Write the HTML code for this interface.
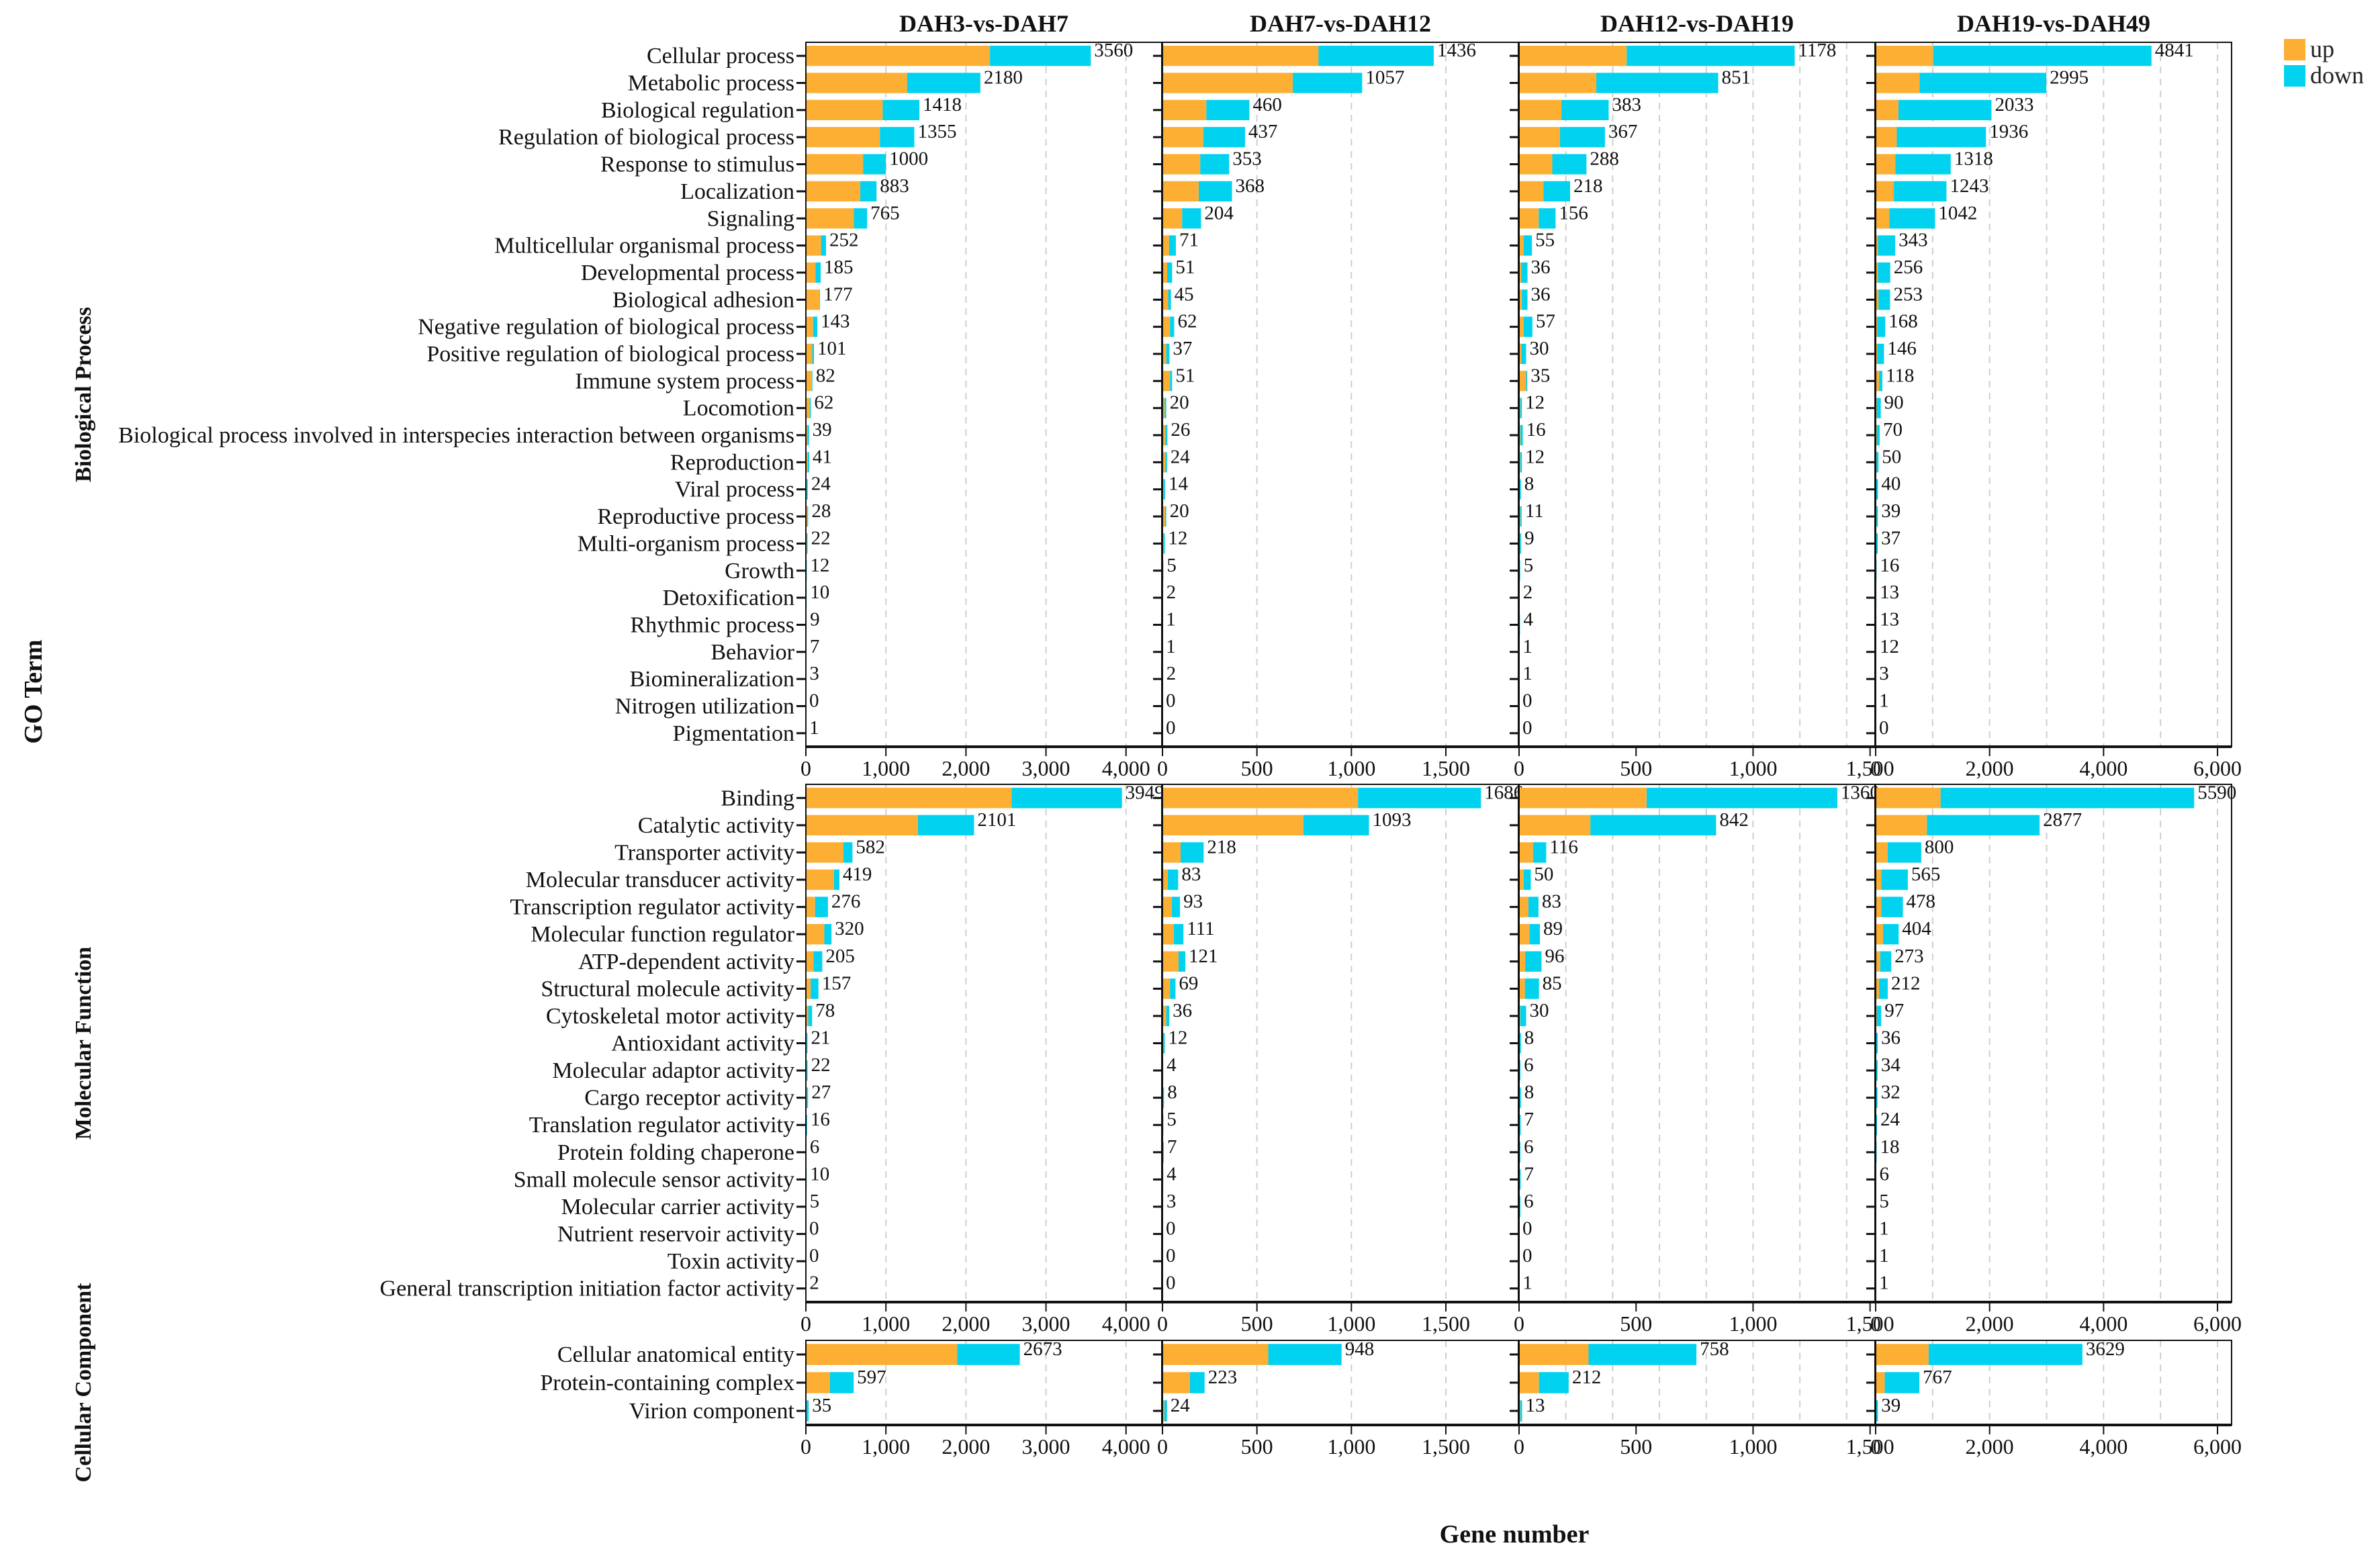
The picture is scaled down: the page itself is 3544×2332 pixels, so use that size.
<!DOCTYPE html>
<html><head><meta charset="utf-8">
<style>
html,body{margin:0;padding:0;background:#fff;}
svg{display:block;font-family:"Liberation Serif",serif;}
</style></head>
<body>
<svg id="chart" width="3544" height="2332" viewBox="0 0 3544 2332" xmlns="http://www.w3.org/2000/svg"></svg>
<script>
const comparisons = ["DAH3-vs-DAH7","DAH7-vs-DAH12","DAH12-vs-DAH19","DAH19-vs-DAH49"];
const bpTerms = ["Cellular process","Metabolic process","Biological regulation","Regulation of biological process","Response to stimulus","Localization","Signaling","Multicellular organismal process","Developmental process","Biological adhesion","Negative regulation of biological process","Positive regulation of biological process","Immune system process","Locomotion","Biological process involved in interspecies interaction between organisms","Reproduction","Viral process","Reproductive process","Multi-organism process","Growth","Detoxification","Rhythmic process","Behavior","Biomineralization","Nitrogen utilization","Pigmentation"];
const mfTerms = ["Binding","Catalytic activity","Transporter activity","Molecular transducer activity","Transcription regulator activity","Molecular function regulator","ATP-dependent activity","Structural molecule activity","Cytoskeletal motor activity","Antioxidant activity","Molecular adaptor activity","Cargo receptor activity","Translation regulator activity","Protein folding chaperone","Small molecule sensor activity","Molecular carrier activity","Nutrient reservoir activity","Toxin activity","General transcription initiation factor activity"];
const ccTerms = ["Cellular anatomical entity","Protein-containing complex","Virion component"];

const bpTotal = [
 [3560,2180,1418,1355,1000,883,765,252,185,177,143,101,82,62,39,41,24,28,22,12,10,9,7,3,0,1],
 [1436,1057,460,437,353,368,204,71,51,45,62,37,51,20,26,24,14,20,12,5,2,1,1,2,0,0],
 [1178,851,383,367,288,218,156,55,36,36,57,30,35,12,16,12,8,11,9,5,2,4,1,1,0,0],
 [4841,2995,2033,1936,1318,1243,1042,343,256,253,168,146,118,90,70,50,40,39,37,16,13,13,12,3,1,0]
];
const bpUp = [
 [2300,1265,960,925,715,680,600,190,120,170,90,80,75,50,20,25,10,18,12,6,5,5,4,2,0,1],
 [826,690,232,216,200,192,104,35,25,30,40,20,40,12,15,16,8,14,6,3,1,1,1,1,0,0],
 [460,330,181,175,142,104,84,20,10,12,20,10,30,5,6,5,3,5,4,2,1,1,0,0,0,0],
 [1010,770,400,370,345,320,240,40,40,50,30,30,60,20,20,15,10,15,10,5,4,4,4,1,0,0]
];
const mfTotal = [
 [3949,2101,582,419,276,320,205,157,78,21,22,27,16,6,10,5,0,0,2],
 [1686,1093,218,83,93,111,121,69,36,12,4,8,5,7,4,3,0,0,0],
 [1360,842,116,50,83,89,96,85,30,8,6,8,7,6,7,6,0,0,1],
 [5590,2877,800,565,478,404,273,212,97,36,34,32,24,18,6,5,1,1,1]
];
const mfUp = [
 [2570,1400,470,350,115,230,95,60,30,10,10,12,8,3,5,2,0,0,1],
 [1035,746,96,28,50,60,85,40,20,5,2,4,2,4,2,1,0,0,0],
 [545,305,60,20,40,45,26,25,5,3,2,3,3,2,3,2,0,0,0],
 [1140,900,210,100,100,130,80,60,20,10,10,10,8,6,2,2,0,0,0]
];
const ccTotal = [[2673,597,35],[948,223,24],[758,212,13],[3629,767,39]];
const ccUp = [[1890,300,10],[560,145,10],[297,85,5],[930,160,10]];

const xMax = [4447,1884,1521,6247];
const xTicks = [[0,1000,2000,3000,4000],[0,500,1000,1500],[0,500,1000,1500],[0,2000,4000,6000]];
const gridStep = [1000,500,200,1000];

const NS="http://www.w3.org/2000/svg";
const svg=document.getElementById('chart');
function el(tag,attrs,parent){const e=document.createElementNS(NS,tag);for(const k in attrs)e.setAttribute(k,attrs[k]);(parent||svg).appendChild(e);return e;}
function fmt(v){return v.toLocaleString('en-US');}

const panelLeft=[1200,1731,2262,2793];
const panelW=530;
const UP="#FDAF34", DOWN="#00D2F0";
const rows=[
 {name:"biological-process",label:"Biological Process",terms:bpTerms,total:bpTotal,up:bpUp,top:63,bottom:1112},
 {name:"molecular-function",label:"Molecular Function",terms:mfTerms,total:mfTotal,up:mfUp,top:1168,bottom:1939},
 {name:"cellular-component",label:"Cellular Component",terms:ccTerms,total:ccTotal,up:ccUp,top:1996,bottom:2122}
];

comparisons.forEach((c,i)=>{
 const t=el('text',{x:panelLeft[i]+panelW/2,y:47,'text-anchor':'middle','font-size':36,'font-weight':'bold',fill:'#111'});
 t.textContent=c;
 
 
});

rows.forEach(r=>{
 const g=el('g',{});
 
 
 const n=r.terms.length, band=(r.bottom-r.top)/n, bh=band*0.75;
 const yC=k=>r.top+band*(k+0.5);
 const cy=(r.top+r.bottom)/2;
 const sl=el('text',{x:0,y:0,transform:`translate(135,${cy}) rotate(-90)`,'text-anchor':'middle','font-size':34,'font-weight':'bold',fill:'#111'},g);
 sl.textContent=r.label;
 
 
 r.terms.forEach((t,k)=>{
  const tx=el('text',{x:1183,y:yC(k)+11,'text-anchor':'end','font-size':34,fill:'#111'},g);
  tx.textContent=t;
  
  
 });
 comparisons.forEach((c,p)=>{
  const x0=panelLeft[p];
  const sx=v=>x0+v/xMax[p]*panelW;
  const pg=el('g',{},g);
  
  
  for(let v=gridStep[p];v<xMax[p];v+=gridStep[p]){
   const gl=el('line',{x1:sx(v),x2:sx(v),y1:r.top,y2:r.bottom,stroke:'#cfcfcf','stroke-width':2,'stroke-dasharray':'10 8'},pg);
   
   
  }
  r.terms.forEach((t,k)=>{
   const tot=r.total[p][k], up=r.up[p][k];
   const y=yC(k)-bh/2;
   const b1=el('rect',{x:sx(0),y:y,width:Math.max(0,sx(up)-sx(0)),height:bh,fill:UP},pg);
   
   
   const b2=el('rect',{x:sx(up),y:y,width:Math.max(0,sx(tot)-sx(up)),height:bh,fill:DOWN},pg);
   
   
   const vl=el('text',{x:sx(tot)+5,y:yC(k)+1,'font-size':29,fill:'#111'},pg);
   vl.textContent=tot;
   
   
   const tk=el('line',{x1:x0-14,x2:x0,y1:yC(k),y2:yC(k),stroke:'#111','stroke-width':3},pg);
   
   
  });
  const bd=el('rect',{x:x0,y:r.top,width:panelW,height:r.bottom-r.top,fill:'none',stroke:'#111','stroke-width':2},pg);
  
  
  const ax=el('line',{x1:x0,x2:x0+panelW,y1:r.bottom,y2:r.bottom,stroke:'#111','stroke-width':4},pg);
  
  
  xTicks[p].forEach(v=>{
   const xt=el('line',{x1:sx(v),x2:sx(v),y1:r.bottom,y2:r.bottom+14,stroke:'#111','stroke-width':2},pg);
   
   
   const xl=el('text',{x:sx(v),y:r.bottom+43,'text-anchor':'middle','font-size':32,fill:'#111'},pg);
   xl.textContent=fmt(v);
   
   
  });
 });
});

const gt=el('text',{x:0,y:0,transform:'translate(62,1030) rotate(-90)','text-anchor':'middle','font-size':38,'font-weight':'bold',fill:'#111'});
gt.textContent='GO Term';


const xt=el('text',{x:2255,y:2297,'text-anchor':'middle','font-size':38,'font-weight':'bold',fill:'#111'});
xt.textContent='Gene number';



const lg=el('g',{});


[['up',UP,58],['down',DOWN,97]].forEach(([l,c,y])=>{
 const s=el('rect',{x:3401,y:y,width:32,height:32,fill:c},lg);
 
 
 const t=el('text',{x:3440,y:y+27,'font-size':36,fill:'#222'},lg);
 t.textContent=l;
 
 
});
</script>
</body></html>
